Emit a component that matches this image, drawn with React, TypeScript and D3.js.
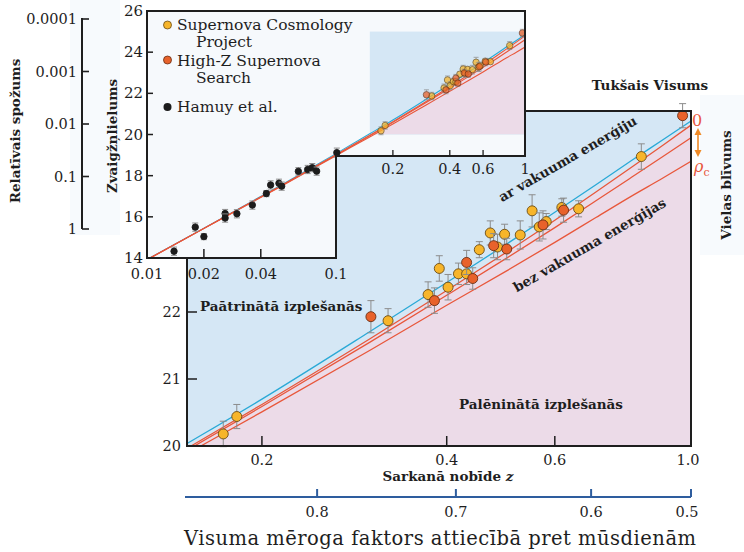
import React from 'react';
import * as d3 from 'd3';

// model curves (magnitude vs redshift)
const modelZ = [0.01, 0.02, 0.05, 0.1, 0.15, 0.2, 0.3, 0.4, 0.5, 0.6, 0.7, 0.8, 0.9, 1.0];
const magVacuum = [13.93, 15.45, 17.49, 19.07, 20.02, 20.7, 21.71, 22.44, 23.01, 23.49, 23.9, 24.26, 24.57, 24.85];
const magEmpty = [13.92, 15.44, 17.46, 19.02, 19.95, 20.62, 21.6, 22.32, 22.89, 23.37, 23.79, 24.16, 24.49, 24.79];
const magOpen = [13.92, 15.44, 17.45, 19.0, 19.92, 20.59, 21.55, 22.25, 22.8, 23.26, 23.66, 24.01, 24.32, 24.6];
const magCritical = [13.91, 15.43, 17.43, 18.97, 19.87, 20.51, 21.43, 22.1, 22.61, 23.04, 23.41, 23.73, 24.0, 24.25];

// Supernova Cosmology Project
const scpZ = [0.173, 0.182, 0.321, 0.373, 0.389, 0.402, 0.418, 0.431, 0.452, 0.471, 0.484, 0.497, 0.527, 0.551, 0.566, 0.581, 0.616, 0.656, 0.83];
const scpMag = [20.18, 20.44, 21.87, 22.26, 22.65, 22.37, 22.57, 22.57, 22.93, 23.18, 22.97, 23.16, 23.15, 23.51, 23.27, 23.35, 23.56, 23.54, 24.32];
const scpErr = [0.19, 0.18, 0.18, 0.19, 0.19, 0.19, 0.16, 0.16, 0.12, 0.18, 0.19, 0.15, 0.21, 0.24, 0.21, 0.12, 0.13, 0.12, 0.19];

// High-Z Supernova Search
const hzZ = [0.301, 0.382, 0.431, 0.441, 0.477, 0.501, 0.574, 0.62, 0.969];
const hzMag = [21.93, 22.17, 22.74, 22.5, 22.99, 22.94, 23.3, 23.52, 24.93];
const hzErr = [0.24, 0.19, 0.18, 0.16, 0.18, 0.16, 0.21, 0.18, 0.18];

// Hamuy et al.
const hamZ = [0.0139, 0.018, 0.02, 0.0259, 0.0259, 0.0299, 0.0361, 0.0428, 0.0451, 0.0499, 0.0516, 0.0632, 0.0708, 0.0749, 0.079, 0.101];
const hamMag = [14.33, 15.5, 15.04, 16.16, 15.94, 16.15, 16.57, 17.13, 17.55, 17.63, 17.49, 18.21, 18.3, 18.39, 18.22, 19.12];
const hamErr = [0.2, 0.2, 0.15, 0.2, 0.2, 0.2, 0.2, 0.15, 0.2, 0.2, 0.2, 0.18, 0.2, 0.2, 0.2, 0.22];

const mainXTicks = [0.2, 0.4, 0.6, 1.0];
const mainXLabels = ['0.2', '0.4', '0.6', '1.0'];
const mainYTicks = [20, 21, 22];
const insetYTicks = [14, 16, 18, 20, 22, 24, 26];
const insetXTicks = [0.01, 0.02, 0.04, 0.1];
const insetXLabels = ['0.01', '0.02', '0.04', '0.1'];
const insetUpperTicks = [0.2, 0.4, 0.6, 1];
const insetUpperLabels = ['0.2', '0.4', '0.6', '1'];
const brightTicks = [1, 0.1, 0.01, 0.001, 0.0001];
const brightLabels = ['1', '0.1', '0.01', '0.001', '0.0001'];
const scaleFactorLabels = ['0.8', '0.7', '0.6', '0.5'];
const scaleFactorTickZ = [0.246, 0.414, 0.6875, 1.0];

const FONT = '"DejaVu Serif", serif';
const BLUE_BG = '#d5e7f5';
const PINK_BG = '#ecdbe8';
const CYAN = '#2aa9d6';
const RED = '#e8573b';
const YELLOW = '#f7b52a';
const ORANGE = '#e8622b';
const INK = '#1e1e1e';

export default function App() {
  const W = 744;
  const H = 552;
  const main = { left: 187, right: 691, top: 111, bottom: 446 };
  const xMain = d3.scaleLog().domain([0.151, 1]).range([main.left, main.right]);
  const yMain = d3.scaleLinear().domain([20, 25]).range([main.bottom, main.top]);

  const inset = { left: 147, right: 525, top: 11, bottom: 258, notchY: 156 };
  const xIn = d3.scaleLog().domain([0.01, 1]).range([inset.left, inset.right]);
  const yIn = d3.scaleLinear().domain([14, 26]).range([inset.bottom, inset.top]);
  const notchX = xIn(0.1);

  const bright = d3.scaleLog().domain([1, 0.0001]).range([229, 19]);
  const brightX = 82;
  const sfY = 497;

  const lineFor = (xs: any, ys: any) =>
    d3.line<number>().x((_, i) => xs(modelZ[i])).y((d) => ys(d)).curve(d3.curveMonotoneX);
  const areaFor = (xs: any, ys: any, base: number) =>
    d3.area<number>().x((_, i) => xs(modelZ[i])).y0(base).y1((d) => ys(d)).curve(d3.curveMonotoneX);

  const models = [
    { mags: magVacuum, color: CYAN },
    { mags: magEmpty, color: RED },
    { mags: magOpen, color: RED },
    { mags: magCritical, color: RED },
  ];

  const insetPoly = [
    [inset.left, inset.top],
    [inset.right, inset.top],
    [inset.right, inset.notchY],
    [notchX, inset.notchY],
    [notchX, inset.bottom],
    [inset.left, inset.bottom],
  ];
  const insetPath = 'M' + insetPoly.map((p) => p.join(',')).join('L') + 'Z';

  const shade = { x0: xIn(0.151), x1: xIn(1), y0: yIn(25), y1: yIn(20) };

  const points = (zs: number[], ms: number[], es: number[], fill: string, stroke: string) =>
    zs.map((z, i) => ({ z, m: ms[i], e: es[i], fill, stroke }));
  const snPoints = [
    ...points(scpZ, scpMag, scpErr, YELLOW, '#6a4c16'),
    ...points(hzZ, hzMag, hzErr, ORANGE, '#6a2f14'),
  ];
  const hamPoints = points(hamZ, hamMag, hamErr, '#1c1c1c', '#1c1c1c');

  const drawPoints = (pts: any[], xs: any, ys: any, r: number, cap: number, key: string, opacity = 1) =>
    pts.map((p, i) => {
      const cx = xs(p.z);
      const yTop = ys(p.m + p.e);
      const yBot = ys(p.m - p.e);
      return (
        <g key={key + i} opacity={opacity}>
          <line x1={cx} x2={cx} y1={yTop} y2={yBot} stroke="#8c8c8c" strokeWidth={1} />
          <line x1={cx - cap} x2={cx + cap} y1={yTop} y2={yTop} stroke="#8c8c8c" strokeWidth={1} />
          <line x1={cx - cap} x2={cx + cap} y1={yBot} y2={yBot} stroke="#8c8c8c" strokeWidth={1} />
          <circle cx={cx} cy={ys(p.m)} r={r} fill={p.fill} stroke={p.stroke} strokeWidth={0.9} />
        </g>
      );
    });

  return (
    <svg
      width={W}
      height={H}
      viewBox={`0 0 ${W} ${H}`}
      style={{ position: 'absolute', left: 0, top: 0, background: '#ffffff' }}
      fontFamily={FONT}
    >
      <defs>
        <clipPath id="mainClip">
          <rect x={main.left} y={main.top} width={main.right - main.left} height={main.bottom - main.top} />
        </clipPath>
        <clipPath id="insetClip">
          <path d={insetPath} />
        </clipPath>
        <clipPath id="shadeClip">
          <rect x={shade.x0} y={shade.y0} width={shade.x1 - shade.x0} height={shade.y1 - shade.y0} />
        </clipPath>
      </defs>

      <rect x={0} y={0} width={W} height={H} fill="#ffffff" />
      <rect x={70} y={0} width={50} height={235} fill="#f7fafd" />
      <rect x={700} y={95} width={44} height={160} fill="#f7fafd" />

      {/* main panel */}
      <rect x={main.left} y={main.top} width={main.right - main.left} height={main.bottom - main.top} fill={BLUE_BG} />
      <g clipPath="url(#mainClip)">
        <path d={areaFor(xMain, yMain, main.bottom)(magEmpty) || ''} fill={PINK_BG} />
        {models.map((md, i) => (
          <path key={'ml' + i} d={lineFor(xMain, yMain)(md.mags) || ''} fill="none" stroke={md.color} strokeWidth={1.3} />
        ))}
      </g>
      {drawPoints(snPoints, xMain, yMain, 5, 3.5, 'mp')}
      <rect
        x={main.left}
        y={main.top}
        width={main.right - main.left}
        height={main.bottom - main.top}
        fill="none"
        stroke={INK}
        strokeWidth={2}
      />
      {mainXTicks.map((t, i) => (
        <g key={'mx' + i}>
          {i < mainXTicks.length - 1 && (
            <line x1={xMain(t)} x2={xMain(t)} y1={main.bottom} y2={main.bottom - 10} stroke={INK} strokeWidth={1.5} />
          )}
          <text x={xMain(t) - (i === mainXTicks.length - 1 ? 3 : 0)} y={465} fontSize={14.5} textAnchor="middle" fill={INK}>
            {mainXLabels[i]}
          </text>
        </g>
      ))}
      {mainYTicks.map((t, i) => (
        <g key={'my' + i}>
          {i > 0 && <line x1={main.left} x2={main.left + 10} y1={yMain(t)} y2={yMain(t)} stroke={INK} strokeWidth={1.5} />}
          <text x={181} y={yMain(t) + 5} fontSize={14.5} textAnchor="end" fill={INK}>
            {t}
          </text>
        </g>
      ))}

      {/* inset panel */}
      <path d={insetPath} fill="#f6f9fc" />
      <rect x={shade.x0} y={shade.y0} width={shade.x1 - shade.x0} height={shade.y1 - shade.y0} fill={BLUE_BG} />
      <g clipPath="url(#shadeClip)">
        <path d={areaFor(xIn, yIn, shade.y1)(magEmpty) || ''} fill={PINK_BG} />
      </g>
      <g clipPath="url(#insetClip)">
        {models.map((md, i) => (
          <path key={'il' + i} d={lineFor(xIn, yIn)(md.mags) || ''} fill="none" stroke={md.color} strokeWidth={1.1} />
        ))}
        {drawPoints(snPoints, xIn, yIn, 3.2, 2.5, 'ip', 0.75)}
        {drawPoints(hamPoints, xIn, yIn, 3.2, 3, 'hp')}
      </g>
      <path d={insetPath} fill="none" stroke={INK} strokeWidth={2} />
      {insetYTicks.map((t, i) => (
        <g key={'iy' + i}>
          {i > 0 && i < insetYTicks.length - 1 && (
            <line x1={inset.left} x2={inset.left + 6} y1={yIn(t)} y2={yIn(t)} stroke={INK} strokeWidth={1.5} />
          )}
          <text x={143} y={yIn(t) + 5} fontSize={15} textAnchor="end" fill={INK}>
            {t}
          </text>
        </g>
      ))}
      {insetXTicks.map((t, i) => (
        <g key={'ix' + i}>
          {i > 0 && i < insetXTicks.length - 1 && (
            <line x1={xIn(t)} x2={xIn(t)} y1={inset.bottom} y2={inset.bottom - 9} stroke={INK} strokeWidth={1.5} />
          )}
          <text x={xIn(t)} y={279} fontSize={14.5} textAnchor="middle" fill={INK}>
            {insetXLabels[i]}
          </text>
        </g>
      ))}
      {insetUpperTicks.map((t, i) => (
        <g key={'iu' + i}>
          {i < insetUpperTicks.length - 1 && (
            <line x1={xIn(t)} x2={xIn(t)} y1={inset.notchY} y2={inset.notchY - 6} stroke={INK} strokeWidth={1.3} />
          )}
          <text x={xIn(t)} y={174} fontSize={14.5} textAnchor="middle" fill={INK}>
            {insetUpperLabels[i]}
          </text>
        </g>
      ))}

      {/* legend */}
      <g fontSize={15.5} fill={INK}>
        <circle cx={167.5} cy={25} r={4} fill={YELLOW} stroke="#6a4c16" strokeWidth={0.8} />
        <text x={177} y={30}>Supernova Cosmology</text>
        <text x={196} y={47}>Project</text>
        <circle cx={167.5} cy={60} r={4} fill={ORANGE} stroke="#6a2f14" strokeWidth={0.8} />
        <text x={177} y={66}>High-Z Supernova</text>
        <text x={196} y={83}>Search</text>
        <circle cx={167.5} cy={107} r={4} fill="#1c1c1c" />
        <text x={177} y={112}>Hamuy et al.</text>
      </g>

      {/* brightness axis */}
      <line x1={brightX} x2={brightX} y1={bright(0.0001) - 1} y2={bright(1)} stroke={INK} strokeWidth={2} />
      {brightTicks.map((b, i) => (
        <g key={'b' + i}>
          <line x1={brightX} x2={brightX + 7} y1={bright(b)} y2={bright(b)} stroke={INK} strokeWidth={1.6} />
          <text x={77} y={bright(b) + 5} fontSize={14.5} textAnchor="end" fill={INK}>
            {brightLabels[i]}
          </text>
        </g>
      ))}

      {/* scale factor axis */}
      <line x1={185} x2={main.right} y1={sfY} y2={sfY} stroke="#2e5d9e" strokeWidth={2.2} />
      {scaleFactorTickZ.map((z, i) => (
        <g key={'sf' + i}>
          <line x1={xMain(z)} x2={xMain(z)} y1={sfY} y2={sfY - 8} stroke="#2e5d9e" strokeWidth={2} />
          <text x={xMain(z) - (i === scaleFactorTickZ.length - 1 ? 4 : 0)} y={517} fontSize={14.5} textAnchor="middle" fill={INK}>
            {scaleFactorLabels[i]}
          </text>
        </g>
      ))}

      {/* titles and annotations */}
      <g fontWeight="bold" fill={INK} fontSize={13.5}>
        <text transform="translate(20,131) rotate(-90)" textAnchor="middle">Relatīvais spožums</text>
        <text transform="translate(117,136) rotate(-90)" textAnchor="middle">Zvaigžņlielums</text>
        <text transform="translate(731,185) rotate(-90)" textAnchor="middle">Vielas blīvums</text>
        <text x={650} y={90} textAnchor="middle">Tukšais Visums</text>
        <text x={200} y={311}>Paātrinātā izplešanās</text>
        <text x={459} y={409}>Palēninātā izplešanās</text>
        <text transform="translate(570,163) rotate(-30)" textAnchor="middle">ar vakuuma enerģiju</text>
        <text transform="translate(592,249) rotate(-30)" textAnchor="middle">bez vakuuma enerģijas</text>
        <text x={448} y={481} textAnchor="middle">
          Sarkanā nobīde <tspan fontStyle="italic">z</tspan>
        </text>
      </g>
      <text x={184} y={545} fontSize={19.5} textLength={512} lengthAdjust="spacing" fill={INK}>
        Visuma mēroga faktors attiecībā pret mūsdienām
      </text>

      <text x={697} y={126} fontSize={16} textAnchor="middle" fill={RED}>0</text>
      <line x1={698} x2={698} y1={133} y2={152} stroke="#f08a26" strokeWidth={1.6} />
      <path d="M698,128 L694.5,135 L701.5,135 Z" fill="#f08a26" />
      <path d="M698,157 L694.5,150 L701.5,150 Z" fill="#f08a26" />
      <text x={694} y={172} fontSize={16} fill={RED}>
        <tspan fontStyle="italic">ρ</tspan>
        <tspan fontSize={11} dy={4}>c</tspan>
      </text>
    </svg>
  );
}
